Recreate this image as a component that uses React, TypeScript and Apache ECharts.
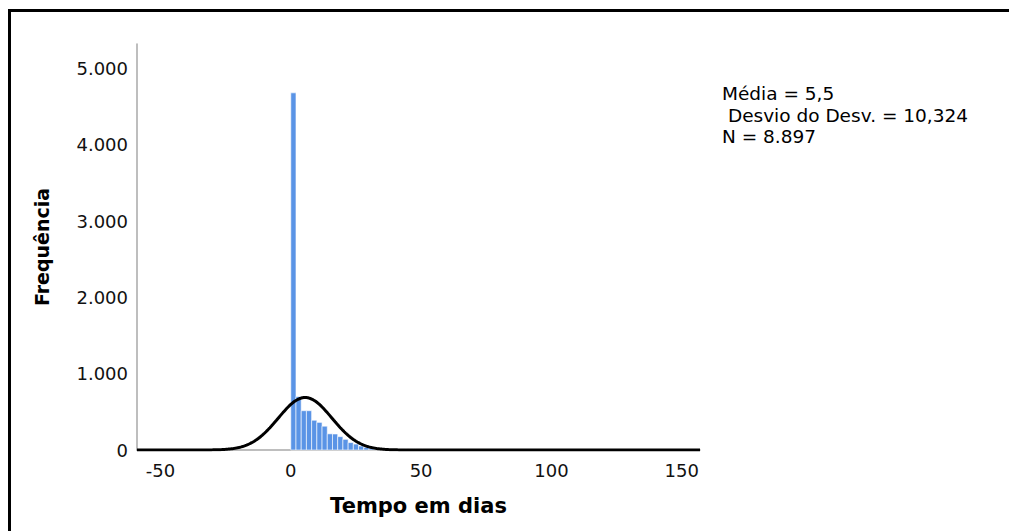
import React, { useEffect, useRef } from "react";
import * as echarts from "echarts";

// ---- data ----
const BIN_WIDTH = 2; // days per bar
const BIN_COUNTS = [
  4680, 700, 515, 515, 390, 362, 312, 212, 210, 175, 140, 97, 78, 52, 35, 18,
  10, 7, 5, 4, 3, 3, 2, 2, 2, 1, 1, 1,
];
const MEAN = 5.5;
const SD = 10.324;
const N = 8897;
const X_MIN = -59;
const X_MAX = 157;
const Y_MAX = 5320;
const X_TICKS = [-50, 0, 50, 100, 150];
const Y_TICKS = [0, 1000, 2000, 3000, 4000, 5000];
const LEGEND_LINES = ["Média = 5,5", " Desvio do Desv. = 10,324", "N = 8.897"];
const X_TITLE = "Tempo em dias";
const Y_TITLE = "Frequência";

const FONT = "DejaVu Sans";

function fmtThousands(v: number): string {
  return String(v).replace(/\B(?=(\d{3})+(?!\d))/g, ".");
}

export default function App() {
  const ref = useRef<HTMLDivElement>(null);

  useEffect(() => {
    if (!ref.current) return;
    const chart = echarts.init(ref.current, undefined, { renderer: "svg" });

    const bars = BIN_COUNTS.map((c, i) => [i * BIN_WIDTH, (i + 1) * BIN_WIDTH, c]);

    // fitted normal curve from the stated mean, SD and N (scaled to bin width)
    const curve: number[][] = [];
    const k = (N * BIN_WIDTH) / (SD * Math.sqrt(2 * Math.PI));
    for (let x = X_MIN; x <= X_MAX + 1e-9; x += 0.5) {
      const z = (x - MEAN) / SD;
      curve.push([x, k * Math.exp(-0.5 * z * z)]);
    }

    chart.setOption({
      animation: false,
      grid: { left: 137, right: 309, top: 44, bottom: 81, containLabel: false },
      xAxis: {
        type: "value",
        min: X_MIN,
        max: X_MAX,
        name: X_TITLE,
        nameLocation: "middle",
        nameGap: 45,
        nameTextStyle: { fontFamily: FONT, fontSize: 21, fontWeight: "bold", color: "#000" },
        axisLine: { show: true, onZero: true, lineStyle: { color: "#a8a8a8", width: 1.5 } },
        axisTick: { show: false, customValues: X_TICKS },
        splitLine: { show: false },
        axisLabel: {
          customValues: X_TICKS,
          fontFamily: FONT,
          fontSize: 18,
          color: "#111",
          margin: 11,
        },
      },
      yAxis: {
        type: "value",
        min: 0,
        max: Y_MAX,
        name: Y_TITLE,
        nameLocation: "middle",
        nameGap: 86,
        nameRotate: 90,
        nameTextStyle: { fontFamily: FONT, fontSize: 19, fontWeight: "bold", color: "#000" },
        axisLine: { show: true, onZero: false, lineStyle: { color: "#a8a8a8", width: 1.5 } },
        axisTick: { show: false, customValues: Y_TICKS },
        splitLine: { show: false },
        axisLabel: {
          customValues: Y_TICKS,
          formatter: (v: number) => fmtThousands(v),
          fontFamily: FONT,
          fontSize: 18,
          color: "#111",
          margin: 9,
        },
      },
      series: [
        {
          type: "custom",
          z: 2,
          data: bars,
          encode: { x: [0, 1], y: 2 },
          renderItem: (params: any, api: any) => {
            const p0 = api.coord([api.value(0), api.value(2)]);
            const p1 = api.coord([api.value(1), 0]);
            return {
              type: "rect",
              shape: { x: p0[0], y: p0[1], width: p1[0] - p0[0], height: p1[1] - p0[1] },
              style: { fill: "#5a94e6", stroke: "rgba(255,255,255,0.75)", lineWidth: 0.8 },
            };
          },
        },
        {
          type: "line",
          z: 3,
          data: curve,
          showSymbol: false,
          symbol: "none",
          smooth: false,
          lineStyle: { color: "#000", width: 3 },
        },
      ],
      graphic: LEGEND_LINES.map((t, i) => ({
        type: "text",
        left: 722,
        top: 84 + i * 21.5,
        style: {
          text: t,
          fontFamily: FONT,
          fontSize: 18.5,
          fill: "#000",
        },
      })),
    });

    return () => chart.dispose();
  }, []);

  return (
    <>
      <div
        style={{
          position: "fixed",
          left: 8,
          top: 9,
          width: 1100,
          height: 600,
          border: "3px solid #000",
          boxSizing: "border-box",
          background: "#fff",
        }}
      />
      <div
        ref={ref}
        style={{ position: "fixed", left: 0, top: 0, width: 1009, height: 531 }}
      />
    </>
  );
}
